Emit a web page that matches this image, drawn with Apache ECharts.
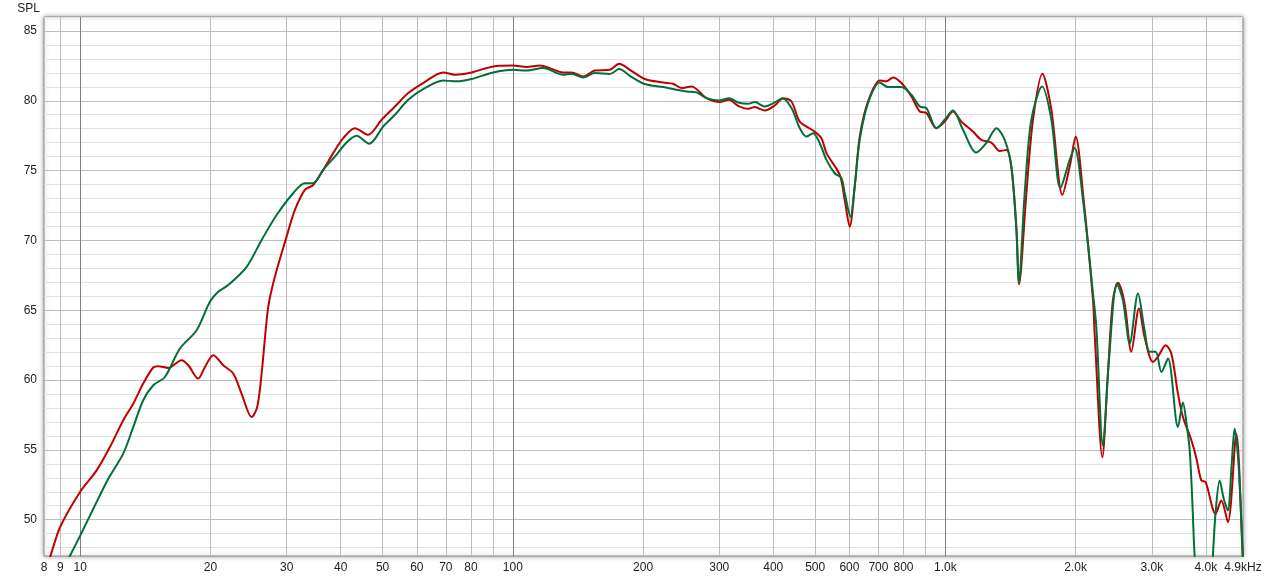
<!DOCTYPE html>
<html>
<head>
<meta charset="utf-8">
<script src="https://cdn.jsdelivr.net/npm/echarts@6/dist/echarts.min.js"></script>
<style>
html,body{margin:0;padding:0;background:#fff;}
#chart{width:1265px;height:580px;}
</style>
</head>
<body>
<div id="chart"></div>
<script>
// ---- data (frequency in Hz, level in dB SPL) ----
const freqRed = [8.2, 8.51, 8.98, 9.98, 10.91, 11.71, 12.57, 13.26, 13.98, 14.75, 15.15, 15.97, 17.15, 17.77, 18.74, 19.42, 20.3, 21.4, 22.58, 23.6, 24.9, 25.65, 26.26, 27.2, 28.18, 29.99, 31.35, 33.05, 34.55, 36.44, 38.43, 40.54, 43.13, 46.3, 49.74, 53.4, 57.3, 62.03, 69.03, 73.45, 80.27, 90.06, 100, 107.6, 115.5, 121.8, 130.7, 136.6, 145.4, 154.7, 167.6, 176.1, 186.4, 201.8, 222.5, 234.7, 245.4, 258.8, 280.4, 300.9, 316.2, 331.7, 349.9, 362.5, 382.3, 403.3, 421.4, 440.7, 460.6, 494.3, 516.9, 530.9, 569.9, 585.1, 600.9, 617.1, 633.8, 662.4, 705, 730.5, 756.7, 791.2, 834.5, 872.3, 903.8, 953.3, 996.3, 1041, 1089, 1158, 1211, 1277, 1335, 1384, 1421, 1459, 1480, 1539, 1594, 1676, 1758, 1864, 1938, 2001, 2080, 2194, 2213, 2306, 2375, 2439, 2505, 2596, 2690, 2802, 2887, 3018, 3099, 3229, 3329, 3448, 3541, 3703, 3803, 3905, 3996, 4213, 4343, 4498, 4704, 4858, 4875];
const dbRed = [46.0, 47.3, 49.46, 51.97, 53.53, 55.2, 57.12, 58.31, 59.75, 60.9, 60.99, 60.87, 61.42, 61.06, 60.11, 60.94, 61.78, 61.06, 60.47, 59.03, 57.35, 58.07, 60.47, 65.24, 67.4, 70.27, 72.18, 73.62, 73.97, 75.05, 76.25, 77.32, 78.04, 77.56, 78.64, 79.59, 80.55, 81.27, 82.03, 81.87, 82.03, 82.46, 82.53, 82.42, 82.53, 82.34, 82.03, 82.03, 81.74, 82.17, 82.22, 82.65, 82.22, 81.56, 81.31, 81.22, 80.91, 81.03, 80.19, 79.91, 80.07, 79.64, 79.43, 79.55, 79.3, 79.66, 80.19, 79.95, 78.51, 77.87, 77.32, 76.25, 74.69, 72.9, 70.98, 73.85, 77.44, 79.95, 81.46, 81.39, 81.67, 81.27, 80.31, 79.23, 79.12, 78.04, 78.51, 79.23, 78.51, 77.8, 77.2, 77.01, 76.4, 76.48, 75.2, 70.98, 66.87, 73.38, 78.64, 81.94, 79.35, 73.26, 75.29, 77.44, 73.38, 65.72, 63.34, 54.48, 60.47, 65.72, 66.97, 65.49, 62.02, 65.13, 63.09, 61.3, 61.66, 62.5, 61.9, 59.03, 57.35, 55.7, 54.4, 52.81, 52.69, 50.42, 51.38, 49.82, 56.16, 48.03, 46.5];

const freqGreen = [8.2, 9.43, 10, 10.72, 11.61, 12.57, 13.26, 13.98, 14.75, 15.69, 17.0, 18.58, 19.94, 20.84, 21.98, 24.25, 26.26, 28.44, 31.06, 33.05, 34.55, 36.44, 38.78, 41.28, 43.53, 46.55, 50.16, 53.4, 57.3, 62.03, 69.03, 74.1, 80.27, 90.06, 100, 107.6, 117.5, 130.7, 136.6, 145.4, 154.7, 167.6, 176.1, 186.4, 201.8, 222.5, 239, 252, 265.8, 280.4, 300.9, 316.2, 331.7, 349.9, 362.5, 382.3, 403.3, 420, 440.7, 460.6, 477.2, 494.3, 512.3, 530.9, 554.8, 575, 585.1, 603.1, 617, 633.8, 662.4, 705, 736.8, 791.2, 834.5, 872.3, 903.8, 953.3, 996.3, 1041, 1098, 1179, 1243, 1312, 1371, 1421, 1459, 1479, 1525, 1580, 1673, 1758, 1844, 1938, 1990, 2080, 2194, 2233, 2312, 2388, 2492, 2573, 2667, 2787, 2887, 2965, 3062, 3157, 3270, 3448, 3541, 3612, 3670, 3720, 3768, 3871, 3976, 4082, 4153, 4213, 4305, 4400, 4498, 4580, 4661, 4760, 4875];
const dbGreen = [43.6, 47.31, 48.87, 50.78, 52.93, 54.73, 56.64, 58.55, 59.63, 60.22, 62.26, 63.57, 65.6, 66.32, 66.8, 68.11, 70.03, 71.82, 73.38, 74.1, 74.1, 75.05, 76.0, 77.01, 77.49, 76.92, 78.16, 79.0, 80.07, 80.84, 81.46, 81.39, 81.56, 82.03, 82.22, 82.17, 82.34, 81.87, 81.94, 81.67, 81.99, 81.92, 82.27, 81.79, 81.2, 80.98, 80.79, 80.67, 80.6, 80.19, 80.02, 80.19, 79.88, 79.78, 79.91, 79.59, 79.88, 80.19, 79.48, 78.04, 77.44, 77.68, 76.96, 75.77, 74.81, 74.45, 73.38, 71.7, 73.85, 77.2, 79.83, 81.31, 80.98, 80.98, 80.43, 79.59, 79.48, 78.04, 78.64, 79.3, 77.92, 76.29, 76.97, 78.04, 77.2, 75.29, 70.75, 66.97, 73.38, 78.64, 81.03, 78.64, 73.74, 75.77, 76.61, 72.9, 66.2, 63.81, 55.32, 61.42, 66.92, 65.72, 62.62, 66.2, 63.57, 62.02, 62.02, 60.58, 61.54, 56.64, 58.4, 56.8, 55.0, 51.5, 47.4, 42.0, 40.0, 43.0, 47.4, 50.5, 52.8, 51.5, 50.66, 53.5, 56.52, 54.0, 47.0];

// ---- axis ticks / labels ----
const freqMin = 8.245, freqMax = 4875;
const xLabelFreqs = [8.245, 9, 10, 20, 30, 40, 50, 60, 70, 80, 100, 200, 300, 400, 500, 600, 700, 800, 1000, 2000, 3000, 4000, 4875];
const xLabelTexts = ['8', '9', '10', '20', '30', '40', '50', '60', '70', '80', '100', '200', '300', '400', '500', '600', '700', '800', '1.0k', '2.0k', '3.0k', '4.0k', '4.9kHz'];
const xGridFreqs = [9, 10, 20, 30, 40, 50, 60, 70, 80, 90, 100, 200, 300, 400, 500, 600, 700, 800, 900, 1000, 2000, 3000, 4000];
const xDecadeFreqs = [10, 100, 1000];
const yMin = 47.4, yMax = 86;
const yLabelValues = [50, 55, 60, 65, 70, 75, 80, 85];
const yGridValues = [48, 49, 50, 51, 52, 53, 54, 55, 56, 57, 58, 59, 60, 61, 62, 63, 64, 65, 66, 67, 68, 69, 70, 71, 72, 73, 74, 75, 76, 77, 78, 79, 80, 81, 82, 83, 84, 85, 86];

const lg = Math.log10;
const toPairs = (fs, ds) => fs.map((f, i) => [lg(f), ds[i]]);
const xLabelLogs = xLabelFreqs.map(lg);

const xGridColors = xGridFreqs.map(f => xDecadeFreqs.indexOf(f) >= 0 ? '#808080' : '#bdbdbd');
const yGridColors = yGridValues.map(v => v % 5 === 0 ? '#bdbdbd' : '#e1e1e1');

const chart = echarts.init(document.getElementById('chart'), null, {renderer: 'canvas'});
const font = 'Liberation Sans, Arial, sans-serif';
chart.setOption({
  animation: false,
  backgroundColor: '#ffffff',
  grid: {
    left: 44, right: 22, top: 17, bottom: 24,
    show: true, backgroundColor: '#ffffff',
    borderColor: '#8a8a8a', borderWidth: 1,
    shadowBlur: 5, shadowColor: 'rgba(0,0,0,0.35)'
  },
  xAxis: {
    type: 'value',
    min: lg(freqMin), max: lg(freqMax),
    axisLine: {show: false},
    axisTick: {show: false, customValues: xGridFreqs.map(lg)},
    splitLine: {show: true, lineStyle: {color: xGridColors, width: 1}},
    axisLabel: {
      customValues: xLabelLogs,
      margin: 6,
      color: '#222', fontFamily: font, fontSize: 12,
      formatter: function (v) {
        for (let i = 0; i < xLabelLogs.length; i++) {
          if (Math.abs(xLabelLogs[i] - v) < 1e-6) return xLabelTexts[i];
        }
        return '';
      }
    }
  },
  yAxis: {
    type: 'value',
    min: yMin, max: yMax,
    name: 'SPL', nameLocation: 'end', nameGap: 2,
    nameTextStyle: {align: 'right', verticalAlign: 'bottom', padding: [0, 4, 0, 0], color: '#222', fontFamily: font, fontSize: 12},
    axisLine: {show: false},
    axisTick: {show: false, customValues: yGridValues},
    splitLine: {show: true, lineStyle: {color: yGridColors, width: 1}},
    axisLabel: {customValues: yLabelValues, margin: 7, color: '#222', fontFamily: font, fontSize: 12}
  },
  series: [
    {
      name: 'Red', type: 'line', data: toPairs(freqRed, dbRed),
      smooth: 0.3, showSymbol: false, clip: true, z: 3,
      lineStyle: {color: '#c00000', width: 2}
    },
    {
      name: 'Green', type: 'line', data: toPairs(freqGreen, dbGreen),
      smooth: 0.3, showSymbol: false, clip: true, z: 4,
      lineStyle: {color: '#006f38', width: 2}
    }
  ]
});
</script>
</body>
</html>
